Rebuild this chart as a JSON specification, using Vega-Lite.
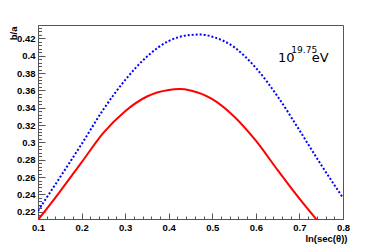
{
  "$schema": "https://vega.github.io/schema/vega-lite/v6.json",
  "width": 305,
  "height": 194,
  "autosize": {"type": "none"},
  "padding": {"left": 38, "top": 25, "right": 39, "bottom": 26},
  "background": "white",
  "config": {
    "view": {"stroke": "#555", "strokeWidth": 1},
    "axis": {
      "grid": false,
      "domainColor": "#555",
      "tickColor": "#555",
      "labelFont": "Liberation Sans",
      "labelFontWeight": "bold",
      "labelFontSize": 9.5,
      "labelColor": "black",
      "titleFont": "Liberation Sans",
      "titleFontWeight": "bold",
      "titleFontSize": 9.5,
      "titleColor": "black"
    }
  },
  "resolve": {"axis": {"x": "independent", "y": "independent"}},
  "layer": [
    {
      "data": {
        "values": [
          {"series": "blue", "x": 0.1, "y": 0.221},
          {"series": "blue", "x": 0.13, "y": 0.244},
          {"series": "blue", "x": 0.16, "y": 0.267},
          {"series": "blue", "x": 0.2, "y": 0.298},
          {"series": "blue", "x": 0.25, "y": 0.338},
          {"series": "blue", "x": 0.3, "y": 0.372},
          {"series": "blue", "x": 0.35, "y": 0.399},
          {"series": "blue", "x": 0.4, "y": 0.417},
          {"series": "blue", "x": 0.45, "y": 0.424},
          {"series": "blue", "x": 0.475, "y": 0.4245},
          {"series": "blue", "x": 0.5, "y": 0.422},
          {"series": "blue", "x": 0.55, "y": 0.41},
          {"series": "blue", "x": 0.6, "y": 0.386},
          {"series": "blue", "x": 0.65, "y": 0.353},
          {"series": "blue", "x": 0.7, "y": 0.314},
          {"series": "blue", "x": 0.75, "y": 0.274},
          {"series": "blue", "x": 0.8, "y": 0.236}
        ]
      },
      "mark": {"type": "line", "color": "#0000ff", "strokeWidth": 2, "strokeDash": [2, 2], "interpolate": "monotone", "clip": true},
      "encoding": {
        "x": {
          "field": "x", "type": "quantitative",
          "scale": {"domain": [0.1, 0.8], "nice": false, "zero": false},
          "axis": {"orient": "bottom", "values": [0.1, 0.2, 0.3, 0.4, 0.5, 0.6, 0.7, 0.8], "format": ".1f", "tickSize": -6, "labelPadding": 9.5, "labelFlush": false,
                   "title": "ln(sec(θ))", "titleAnchor": "end", "titleAlign": "right", "titleBaseline": "alphabetic", "titleX": 309, "titleY": 22}
        },
        "y": {
          "field": "y", "type": "quantitative",
          "scale": {"domain": [0.2116, 0.4355], "nice": false, "zero": false},
          "axis": {"orient": "left", "values": [0.22, 0.24, 0.26, 0.28, 0.3, 0.32, 0.34, 0.36, 0.38, 0.4, 0.42], "format": ".2~f", "tickSize": -7, "labelPadding": 10, "labelFlush": false,
                   "title": "b/a", "titleAngle": 270, "titleAlign": "right", "titleBaseline": "middle", "titleX": -25, "titleY": 1}
        }
      }
    },
    {
      "data": {
        "values": [
          {"series": "red", "x": 0.1, "y": 0.2105},
          {"series": "red", "x": 0.15, "y": 0.243},
          {"series": "red", "x": 0.2, "y": 0.277},
          {"series": "red", "x": 0.25, "y": 0.311},
          {"series": "red", "x": 0.3, "y": 0.336},
          {"series": "red", "x": 0.35, "y": 0.353},
          {"series": "red", "x": 0.4, "y": 0.3605},
          {"series": "red", "x": 0.425, "y": 0.3615},
          {"series": "red", "x": 0.45, "y": 0.36},
          {"series": "red", "x": 0.5, "y": 0.35},
          {"series": "red", "x": 0.55, "y": 0.33},
          {"series": "red", "x": 0.6, "y": 0.302},
          {"series": "red", "x": 0.65, "y": 0.268},
          {"series": "red", "x": 0.7, "y": 0.235},
          {"series": "red", "x": 0.74, "y": 0.2105}
        ]
      },
      "mark": {"type": "line", "color": "#ff0000", "strokeWidth": 2, "interpolate": "monotone", "clip": true},
      "encoding": {
        "x": {"field": "x", "type": "quantitative", "axis": null},
        "y": {"field": "y", "type": "quantitative", "axis": null}
      }
    },
    {
      "data": {"values": [{"x": 0.651, "y": 0.3927, "t": "10"}, {"x": 0.7285, "y": 0.3927, "t": "eV"}]},
      "mark": {"type": "text", "font": "DejaVu Sans", "fontSize": 13, "align": "left", "baseline": "alphabetic", "color": "black"},
      "encoding": {
        "x": {
          "field": "x", "type": "quantitative",
          "axis": {"orient": "bottom", "labels": false, "domain": false, "title": null, "tickSize": -3,
                   "values": [0.12, 0.14, 0.16, 0.18, 0.22, 0.24, 0.26, 0.28, 0.32, 0.34, 0.36, 0.38, 0.42, 0.44, 0.46, 0.48, 0.52, 0.54, 0.56, 0.58, 0.62, 0.64, 0.66, 0.68, 0.72, 0.74, 0.76, 0.78]}
        },
        "y": {
          "field": "y", "type": "quantitative",
          "axis": {"orient": "left", "labels": false, "domain": false, "title": null, "tickSize": -3.5,
                   "values": [0.212, 0.216, 0.224, 0.228, 0.232, 0.236, 0.244, 0.248, 0.252, 0.256, 0.264, 0.268, 0.272, 0.276, 0.284, 0.288, 0.292, 0.296, 0.304, 0.308, 0.312, 0.316, 0.324, 0.328, 0.332, 0.336, 0.344, 0.348, 0.352, 0.356, 0.364, 0.368, 0.372, 0.376, 0.384, 0.388, 0.392, 0.396, 0.404, 0.408, 0.412, 0.416, 0.424, 0.428, 0.432]}
        },
        "text": {"field": "t"}
      }
    },
    {
      "data": {"values": [{"x": 0.6815, "y": 0.4035, "t": "19.75"}]},
      "mark": {"type": "text", "font": "DejaVu Sans", "fontSize": 9, "align": "left", "baseline": "alphabetic", "color": "black"},
      "encoding": {
        "x": {"field": "x", "type": "quantitative", "axis": null},
        "y": {"field": "y", "type": "quantitative", "axis": null},
        "text": {"field": "t"}
      }
    }
  ]
}
